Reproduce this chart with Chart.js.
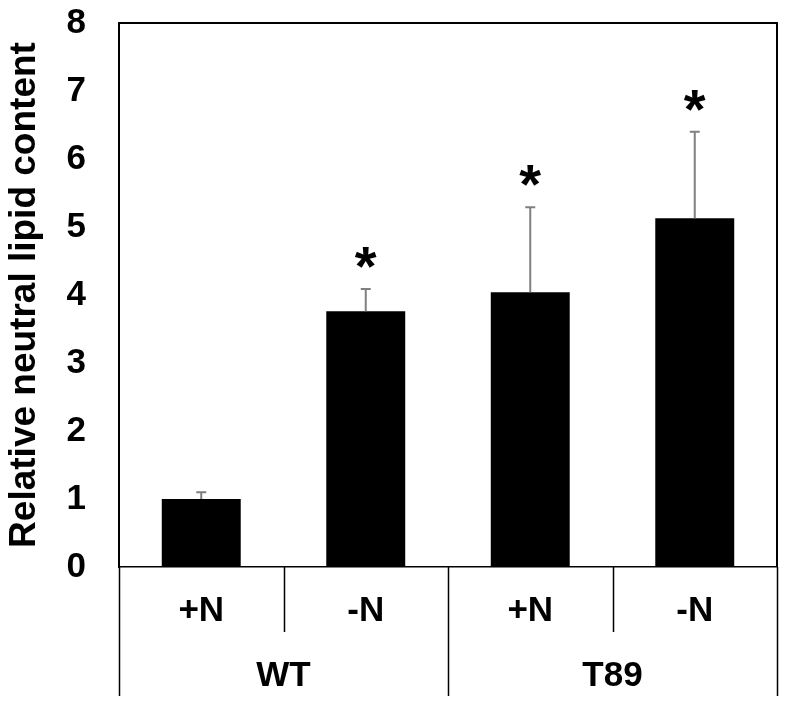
<!DOCTYPE html>
<html>
<head>
<meta charset="utf-8">
<script src="https://cdn.jsdelivr.net/npm/chart.js@4.4.1/dist/chart.umd.min.js"></script>
<style>
  html, body { margin: 0; padding: 0; background: #fff; }
  #wrap { width: 787px; height: 706px; position: relative; }
</style>
</head>
<body>
<div id="wrap"><canvas id="chart1"></canvas></div>
<script>
"use strict";
// valeurs
const conditions = ['+N', '-N', '+N', '-N'];
const strains = ['WT', 'T89'];
const lipidValues = [1.0, 3.76, 4.04, 5.13];
const lipidErrors = [0.10, 0.33, 1.25, 1.27];
const significant = [false, true, true, true];
const yTicks = [0, 1, 2, 3, 4, 5, 6, 7, 8];

const FONT = "'Liberation Sans', Arial, sans-serif";

// barres d'erreur, astérisques, cadre et étiquettes à deux niveaux
const annotations = {
    id: 'annotations',
    afterDatasetsDraw(chart) {
        const ctx = chart.ctx;
        const x = chart.scales.x;
        const y = chart.scales.y;
        const area = chart.chartArea;
        ctx.save();
        // barres d'erreur (vers le haut seulement)
        ctx.strokeStyle = '#808080';
        ctx.lineWidth = 2;
        lipidValues.forEach((v, i) => {
            const px = x.getPixelForValue(i);
            const y0 = y.getPixelForValue(v);
            const y1 = y.getPixelForValue(v + lipidErrors[i]);
            ctx.beginPath();
            ctx.moveTo(px, y0);
            ctx.lineTo(px, y1);
            ctx.moveTo(px - 5, y1);
            ctx.lineTo(px + 5, y1);
            ctx.stroke();
            if (significant[i]) {
                ctx.fillStyle = '#000';
                ctx.font = 'bold 56px ' + FONT;
                ctx.textAlign = 'center';
                ctx.textBaseline = 'alphabetic';
                ctx.fillText('*', px, y1 - 36 + 32);
            }
        });
        // cadre
        ctx.strokeStyle = '#000';
        ctx.lineWidth = 2;
        ctx.beginPath();
        ctx.moveTo(area.left, area.top);
        ctx.lineTo(area.right, area.top);
        ctx.lineTo(area.right, area.bottom);
        ctx.stroke();
        // séparateurs de catégories
        const step = x.getPixelForValue(1) - x.getPixelForValue(0);
        ctx.lineWidth = 1.5;
        ctx.beginPath();
        for (let i = 0; i <= conditions.length; i++) {
            const sx = Math.round(x.getPixelForValue(i) - step / 2) + 0.5;
            const groupEdge = i % 2 === 0;
            ctx.moveTo(sx, area.bottom);
            ctx.lineTo(sx, groupEdge ? 696 : 632);
        }
        ctx.stroke();
        // étiquettes
        ctx.fillStyle = '#000';
        ctx.textAlign = 'center';
        ctx.textBaseline = 'middle';
        ctx.font = 'bold 35px ' + FONT;
        conditions.forEach((c, i) => {
            ctx.fillText(c, x.getPixelForValue(i), 611);
        });
        strains.forEach((s, g) => {
            const cx = (x.getPixelForValue(g * 2) + x.getPixelForValue(g * 2 + 1)) / 2;
            ctx.fillText(s, cx, 676);
        });
        ctx.restore();
    }
};

window.addEventListener('DOMContentLoaded', () => {
    const ctx = document.getElementById('chart1');
    new Chart(ctx, {
        type: 'bar',
        data: {
            labels: conditions,
            datasets: [{
                data: lipidValues,
                backgroundColor: '#000',
                borderWidth: 0,
                barPercentage: 0.48,
                categoryPercentage: 1.0
            }]
        },
        options: {
            responsive: true,
            maintainAspectRatio: false,
            animation: false,
            layout: { padding: { top: 23, right: 10, left: 0, bottom: 0 } },
            plugins: { legend: { display: false }, tooltip: { enabled: false } },
            scales: {
                x: {
                    grid: { display: false, drawTicks: false },
                    border: { display: true, color: '#000', width: 1.5 },
                    ticks: { display: false },
                    afterFit: (s) => { s.height = 139; s.paddingLeft = 0; s.paddingRight = 0; }
                },
                y: {
                    min: 0,
                    max: 8,
                    afterBuildTicks: (s) => { s.ticks = yTicks.map(v => ({ value: v })); },
                    grid: { display: false, drawTicks: false },
                    border: { display: true, color: '#000', width: 2 },
                    ticks: {
                        color: '#000',
                        padding: 33,
                        font: { family: FONT, size: 35, weight: 'bold' }
                    },
                    title: {
                        display: true,
                        text: 'Relative neutral lipid content',
                        color: '#000',
                        padding: { top: 3, bottom: 0 },
                        font: { family: FONT, size: 37, weight: 'bold' }
                    },
                    afterFit: (s) => { s.width = 119; s.paddingTop = 0; s.paddingBottom = 0; }
                }
            }
        },
        plugins: [annotations]
    });
});
</script>
</body>
</html>
